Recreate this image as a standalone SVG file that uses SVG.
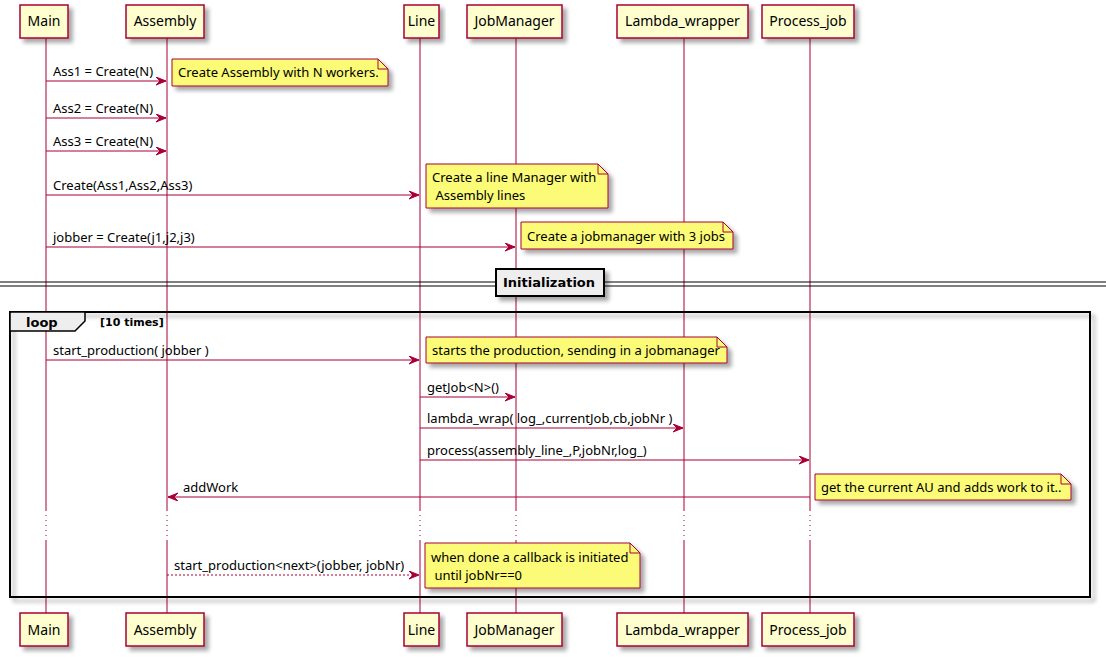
<svg xmlns="http://www.w3.org/2000/svg" width="1106" height="659" viewBox="0 0 1106 659">
<style>
text{font-family:"Noto Sans","DejaVu Sans",sans-serif;fill:#000}
.b{font-family:"DejaVu Sans","Noto Sans",sans-serif;font-weight:bold}
.p{fill:#FEFECE;stroke:#A80036;stroke-width:1.5}
.pt{font-size:14px;text-anchor:middle}
.ll{stroke:#A80036;stroke-width:1;fill:none}
.dot{stroke:#A80036;stroke-width:1;stroke-dasharray:1,4}
.m{stroke:#A80036;stroke-width:1;fill:none}
.ms{font-size:13px}
.n{fill:#FBFB77;stroke:#A80036;stroke-width:1}
.nf{fill:none;stroke:#A80036;stroke-width:1}
.nt{font-size:13px}
</style>
<defs>
<filter id="sh" x="-10%" y="-20%" width="130%" height="160%">
<feGaussianBlur in="SourceAlpha" stdDeviation="2"/>
<feOffset dx="4" dy="4" result="b"/>
<feComponentTransfer><feFuncA type="linear" slope="0.35"/></feComponentTransfer>
<feMerge><feMergeNode/><feMergeNode in="SourceGraphic"/></feMerge>
</filter>
<marker id="ah" markerUnits="userSpaceOnUse" markerWidth="12" markerHeight="10" refX="10" refY="4" orient="auto">
<path d="M0,0 L10,4 L0,8 L4,4 Z" fill="#A80036" stroke="#A80036" stroke-width="1"/>
</marker>
</defs>
<rect width="1106" height="659" fill="#FFFFFF"/>

<g id="lifelines">
<g class="ll">
<path d="M46,38V510M46,540V613"/>
<path d="M167,38V510M167,540V613"/>
<path d="M420,38V510M420,540V613"/>
<path d="M516,38V510M516,540V613"/>
<path d="M684,38V510M684,540V613"/>
<path d="M810,38V510M810,540V613"/>
</g>
<g class="dot">
<path d="M46,510V540M167,510V540M420,510V540M516,510V540M684,510V540M810,510V540"/>
</g>
</g>

<g id="divider">
<line x1="0" y1="282" x2="1106" y2="282" stroke="#000" stroke-width="1"/>
<line x1="0" y1="286" x2="1106" y2="286" stroke="#000" stroke-width="1"/>
<rect x="496" y="269" width="108" height="27" fill="#EEEEEE" stroke="#000" stroke-width="2" filter="url(#sh)"/>
<text class="b" x="549" y="287" font-size="13" text-anchor="middle">Initialization</text>
</g>

<g id="loop">
<rect x="10" y="312" width="1080" height="285" fill="none" stroke="#000" stroke-width="2" filter="url(#sh)"/>
<path d="M10,312 L85,312 L85,321 L75,331 L10,331 Z" fill="#EEEEEE" stroke="#000" stroke-width="1.5"/>
<text class="b" x="26" y="327" font-size="13">loop</text>
<text class="b" x="100" y="326" font-size="11">[10 times]</text>
</g>

<g id="participants">
<g id="p-main-top"><rect class="p" x="20" y="5" width="48" height="33" filter="url(#sh)"/><text class="pt" x="44" y="26">Main</text></g>
<g id="p-assembly-top"><rect class="p" x="126" y="5" width="78" height="33" filter="url(#sh)"/><text class="pt" x="165" y="26">Assembly</text></g>
<g id="p-line-top"><rect class="p" x="404" y="5" width="35" height="33" filter="url(#sh)"/><text class="pt" x="421.5" y="26">Line</text></g>
<g id="p-jobmanager-top"><rect class="p" x="467" y="5" width="95" height="33" filter="url(#sh)"/><text class="pt" x="514.5" y="26">JobManager</text></g>
<g id="p-lambda-top"><rect class="p" x="617" y="5" width="131" height="33" filter="url(#sh)"/><text class="pt" x="682.5" y="26">Lambda_wrapper</text></g>
<g id="p-process-top"><rect class="p" x="762" y="5" width="92" height="33" filter="url(#sh)"/><text class="pt" x="808" y="26">Process_job</text></g>

<g id="p-main-bot"><rect class="p" x="20" y="613" width="48" height="33" filter="url(#sh)"/><text class="pt" x="44" y="635">Main</text></g>
<g id="p-assembly-bot"><rect class="p" x="126" y="613" width="78" height="33" filter="url(#sh)"/><text class="pt" x="165" y="635">Assembly</text></g>
<g id="p-line-bot"><rect class="p" x="404" y="613" width="35" height="33" filter="url(#sh)"/><text class="pt" x="421.5" y="635">Line</text></g>
<g id="p-jobmanager-bot"><rect class="p" x="467" y="613" width="95" height="33" filter="url(#sh)"/><text class="pt" x="514.5" y="635">JobManager</text></g>
<g id="p-lambda-bot"><rect class="p" x="617" y="613" width="131" height="33" filter="url(#sh)"/><text class="pt" x="682.5" y="635">Lambda_wrapper</text></g>
<g id="p-process-bot"><rect class="p" x="762" y="613" width="92" height="33" filter="url(#sh)"/><text class="pt" x="808" y="635">Process_job</text></g>
</g>

<g id="connectors">
<line class="m" x1="46" y1="81" x2="166" y2="81" marker-end="url(#ah)"/>
<text class="ms" x="53" y="76">Ass1 = Create(N)</text>
<line class="m" x1="46" y1="118" x2="166" y2="118" marker-end="url(#ah)"/>
<text class="ms" x="53" y="113">Ass2 = Create(N)</text>
<line class="m" x1="46" y1="151" x2="166" y2="151" marker-end="url(#ah)"/>
<text class="ms" x="53" y="146">Ass3 = Create(N)</text>
<line class="m" x1="46" y1="195" x2="419" y2="195" marker-end="url(#ah)"/>
<text class="ms" x="53" y="190">Create(Ass1,Ass2,Ass3)</text>
<line class="m" x1="46" y1="247" x2="515" y2="247" marker-end="url(#ah)"/>
<text class="ms" x="53" y="242">jobber = Create(j1,j2,j3)</text>
<line class="m" x1="46" y1="360" x2="419" y2="360" marker-end="url(#ah)"/>
<text class="ms" x="53" y="355">start_production( jobber )</text>
<line class="m" x1="420" y1="397" x2="515" y2="397" marker-end="url(#ah)"/>
<text class="ms" x="427" y="392">getJob&lt;N&gt;()</text>
<line class="m" x1="420" y1="428" x2="683" y2="428" marker-end="url(#ah)"/>
<text class="ms" x="427" y="423">lambda_wrap( log_,currentJob,cb,jobNr )</text>
<line class="m" x1="420" y1="460" x2="809" y2="460" marker-end="url(#ah)"/>
<text class="ms" x="427" y="455">process(assembly_line_,P,jobNr,log_)</text>
<line class="m" x1="810" y1="497" x2="168" y2="497" marker-end="url(#ah)"/>
<text class="ms" x="183" y="492">addWork</text>
<line class="m" x1="167" y1="575" x2="419" y2="575" stroke-dasharray="2,2" marker-end="url(#ah)"/>
<text class="ms" x="174" y="570">start_production&lt;next&gt;(jobber, jobNr)</text>
</g>

<g id="note1">
<path class="n" d="M172,59 L378,59 L388,69 L388,86 L172,86 Z" filter="url(#sh)"/>
<path class="nf" d="M378,59 L378,69 L388,69"/>
<text class="nt" x="178" y="77">Create Assembly with N workers.</text>
</g>
<g id="note2">
<path class="n" d="M426,164 L598,164 L608,174 L608,208 L426,208 Z" filter="url(#sh)"/>
<path class="nf" d="M598,164 L598,174 L608,174"/>
<text class="nt" x="432" y="182">Create a line Manager with</text>
<text class="nt" x="432" y="200" xml:space="preserve"> Assembly lines</text>
</g>
<g id="note3">
<path class="n" d="M521,222 L723,222 L733,232 L733,249 L521,249 Z" filter="url(#sh)"/>
<path class="nf" d="M723,222 L723,232 L733,232"/>
<text class="nt" x="527" y="241">Create a jobmanager with 3 jobs</text>
</g>
<g id="note4">
<path class="n" d="M426,337 L717,337 L727,347 L727,363 L426,363 Z" filter="url(#sh)"/>
<path class="nf" d="M717,337 L717,347 L727,347"/>
<text class="nt" x="432" y="355">starts the production, sending in a jobmanager</text>
</g>
<g id="note5">
<path class="n" d="M815,474 L1061,474 L1071,484 L1071,500 L815,500 Z" filter="url(#sh)"/>
<path class="nf" d="M1061,474 L1061,484 L1071,484"/>
<text class="nt" x="821" y="492">get the current AU and adds work to it..</text>
</g>
<g id="note6">
<path class="n" d="M425,543 L630,543 L640,553 L640,588 L425,588 Z" filter="url(#sh)"/>
<path class="nf" d="M630,543 L630,553 L640,553"/>
<text class="nt" x="431" y="562">when done a callback is initiated</text>
<text class="nt" x="431" y="580" xml:space="preserve"> until jobNr==0</text>
</g>
</svg>
